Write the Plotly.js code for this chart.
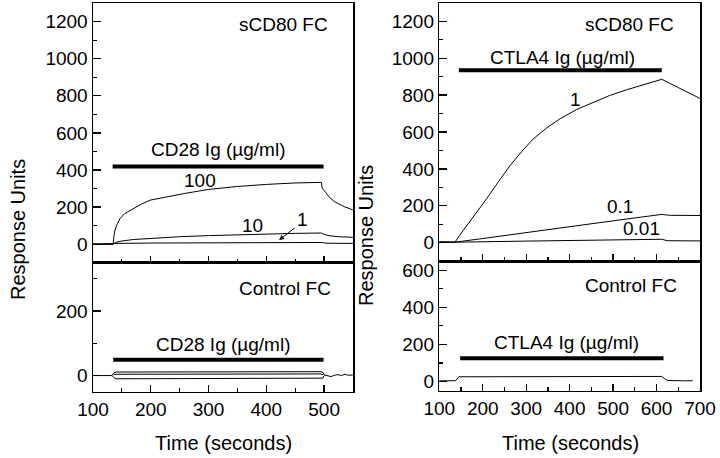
<!DOCTYPE html>
<html>
<head>
<meta charset="utf-8">
<script src="https://cdn.plot.ly/plotly-3.0.1.min.js"></script>
<style>html,body{margin:0;padding:0;background:#fff;}#chart{width:720px;height:458px;}</style>
</head>
<body>
<div id="chart"></div>
<script>
// ---- Data: left column, sCD80 FC (CD28 Ig) ----
const tL100 = [100,135,136,138,142,147,155,170,185,200,230,260,300,350,400,450,495,497,503,510,518,535,550];
const vL100 = [0,0,40,76,110,139,165,193,218,238,258,274,295,311,322,330,333,300,277,250,229,202,184];
const tL10 = [100,135,140,150,170,200,250,300,350,400,450,495,500,510,525,550];
const vL10 = [0,0,10,17,25,32,40,46,51,55,58,60,52,45,40,37];
const tL1 = [100,135,140,200,300,400,495,505,550];
const vL1 = [0,0,4,6,7,8,9,5,4];
// ---- Left column, Control FC ----
const tLCu = [100,133,136,140,493,498,500,505,512,518,524,530,536,542,550];
const vLCu = [0,0,8,11,12,10,2,0,-3,1,3,0,4,1,2];
const tLCm = [136,140,493,498];
const vLCm = [2,4,5,3];
const tLCl = [133,136,140,493,498,500];
const vLCl = [0,-6,-10,-10,-8,0];
// ---- Right column, sCD80 FC (CTLA4 Ig) ----
const tR1 = [100,136,147,178,209,236,263,290,316,347,378,416,454,492,531,570,612,650,700];
const vR1 = [3,2,40,138,238,330,418,495,562,622,672,722,762,798,829,858,886,841,782];
const tR01 = [100,136,200,300,400,500,612,630,700];
const vR01 = [3,2,22,55,85,118,153,148,147];
const tR001 = [100,136,300,500,612,625,700];
const vR001 = [3,2,8,14,18,10,9];
// ---- Right column, Control FC ----
const tRC = [100,138,145,300,500,612,618,625,650,660,665,683];
const vRC = [3,4,25,26,26,27,15,5,4,6,3,4];
// ---- Injection bars: [start, end], level ----
const barLTopT = [134,499], barLTopV = 418;
const barLBotT = [135,499], barLBotV = 49;
const barRTopT = [145,612], barRTopV = 935;
const barRBotT = [148,616], barRBotV = 125;
// ---- Tick labels ----
const xTicksL = [100,200,300,400,500];
const xTicksR = [100,200,300,400,500,600,700];

const W = 720, H = 458;
const px = (a,b) => [a/W, b/W];
const py = (top,bot) => [1-bot/H, 1-top/H];
const FONT = 'Liberation Sans, Arial, sans-serif';

function line(x,y,xa,ya,w){return {x:x,y:y,xaxis:xa,yaxis:ya,mode:'lines',line:{color:'#000',width:w||1},hoverinfo:'skip',showlegend:false};}
function bar(t,v,xa,ya){return line(t,[v,v],xa,ya,4);}

const traces = [
  line(tL100,vL100,'x','y'), line(tL10,vL10,'x','y'), line(tL1,vL1,'x','y'), bar(barLTopT,barLTopV,'x','y'),
  line(tLCu,vLCu,'x2','y2'), line(tLCm,vLCm,'x2','y2'), line(tLCl,vLCl,'x2','y2'), bar(barLBotT,barLBotV,'x2','y2'),
  line(tR1,vR1,'x3','y3'), line(tR01,vR01,'x3','y3'), line(tR001,vR001,'x3','y3'), bar(barRTopT,barRTopV,'x3','y3'),
  line(tRC,vRC,'x4','y4'), bar(barRBotT,barRBotV,'x4','y4')
];

function xax(dom, range, anchor, labels, tickvals){
  return {domain:dom, range:range, anchor:anchor, showgrid:false, zeroline:false,
    showline:true, mirror:true, linecolor:'#000', linewidth:1.5,
    ticks:'inside', ticklen:7, tickwidth:1.3, tickcolor:'#000',
    tickmode:'array', tickvals:tickvals, showticklabels:labels,
    tickfont:{family:FONT,size:19,color:'#000'},
    minor:{ticks:'inside', ticklen:4, tickwidth:1.2, tickcolor:'#000', dtick:50, tick0:100, showgrid:false}};
}
function yax(dom, range, anchor, tickvals){
  return {domain:dom, range:range, anchor:anchor, showgrid:false, zeroline:false,
    showline:true, mirror:true, linecolor:'#000', linewidth:1.5,
    ticks:'inside', ticklen:8, tickwidth:1.3, tickcolor:'#000',
    tickmode:'array', tickvals:tickvals,
    tickfont:{family:FONT,size:19,color:'#000'},
    minor:{ticks:'inside', ticklen:4, tickwidth:1.2, tickcolor:'#000', dtick:100, tick0:0, showgrid:false}};
}

function ann(text,x,y,xr,yr,opts){return Object.assign({text:text,x:x,y:y,xref:xr,yref:yr,showarrow:false,xanchor:'center',yanchor:'middle',font:{family:FONT,size:19,color:'#000'}},opts||{});}

const layout = {
  width:W, height:H, margin:{l:0,r:0,t:0,b:0}, paper_bgcolor:'#fff', plot_bgcolor:'#fff', showlegend:false,
  xaxis: xax(px(93,353), [100,550], 'y', false, xTicksL),
  yaxis: yax(py(3,262.7), [-100,1300], 'x', [0,200,400,600,800,1000,1200]),
  xaxis2: xax(px(93,353), [100,550], 'y2', true, xTicksL),
  yaxis2: yax(py(262.7,391.7), [-50,350], 'x2', [0,200]),
  xaxis3: xax(px(439.3,700), [100,700], 'y3', false, xTicksR),
  yaxis3: yax(py(3,261), [-100,1300], 'x3', [0,200,400,600,800,1000,1200]),
  xaxis4: xax(px(439.3,700), [100,700], 'y4', true, xTicksR),
  yaxis4: yax(py(261,390.7), [-50,650], 'x4', [0,200,400,600]),
  annotations: [
    ann('sCD80 FC',430,1184,'x','y'),
    ann('CD28 Ig (\u00b5g/ml)',317,508,'x','y'),
    ann('100',286,345,'x','y'),
    ann('10',376,103,'x','y'),
    ann('1',462,135,'x','y'),
    {text:'',x:422,y:22,ax:452,ay:94,xref:'x',yref:'y',axref:'x',ayref:'y',showarrow:true,arrowhead:2,arrowsize:1,arrowwidth:1,arrowcolor:'#000'},
    ann('Control FC',432,270,'x2','y2'),
    ann('CD28 Ig (\u00b5g/ml)',325,97,'x2','y2'),
    ann('sCD80 FC',537,1184,'x3','y3'),
    ann('CTLA4 Ig (\u00b5g/ml)',384,1004,'x3','y3'),
    ann('1',414,775,'x3','y3'),
    ann('0.1',516,193,'x3','y3'),
    ann('0.01',566,76,'x3','y3'),
    ann('Control FC',542,520,'x4','y4'),
    ann('CTLA4 Ig (\u00b5g/ml)',392,208,'x4','y4'),
    ann('Response Units',18/W,1-230/H,'paper','paper',{textangle:-90,font:{family:FONT,size:20,color:'#000'}}),
    ann('Response Units',366/W,1-236/H,'paper','paper',{textangle:-90,font:{family:FONT,size:20,color:'#000'}}),
    ann('Time (seconds)',223/W,1-443/H,'paper','paper',{font:{family:FONT,size:20,color:'#000'}}),
    ann('Time (seconds)',570/W,1-443/H,'paper','paper',{font:{family:FONT,size:20,color:'#000'}})
  ]
};

Plotly.newPlot('chart', traces, layout, {staticPlot:true, displayModeBar:false});
</script>
</body>
</html>
